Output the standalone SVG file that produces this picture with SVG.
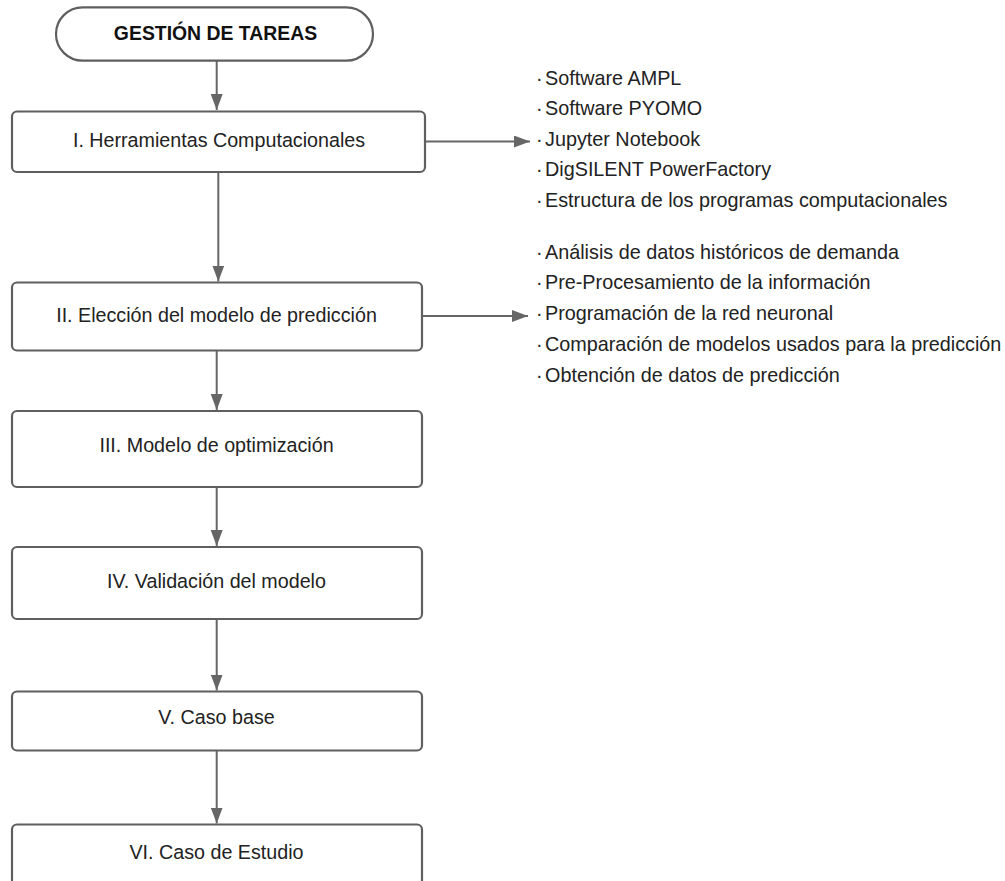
<svg xmlns="http://www.w3.org/2000/svg" width="1005" height="881" viewBox="0 0 1005 881">
<defs>
<marker id="ah" viewBox="0 0 16 12" refX="16" refY="6" markerWidth="16" markerHeight="12" markerUnits="userSpaceOnUse" orient="auto">
<path d="M0,0 L16,6 L0,12 Z" fill="#666666"/>
</marker>
<style>
.box{fill:#ffffff;stroke:#5f5f5f;stroke-width:2.2}
.lbl{font-family:"Liberation Sans",Arial,sans-serif;font-size:19.7px;fill:#222222;text-anchor:middle}
.ttl{font-family:"Liberation Sans",Arial,sans-serif;font-size:19.4px;font-weight:bold;fill:#111111;text-anchor:middle}
.lst{font-family:"Liberation Sans",Arial,sans-serif;font-size:19.8px;fill:#222222}
.con{fill:none;stroke:#666666;stroke-width:2;marker-end:url(#ah)}
</style>
</defs>
<rect width="1005" height="881" fill="#ffffff"/>
<g id="connectors">
<path class="con" d="M216.7,61 L216.7,110"/>
<path class="con" d="M218.3,172 L218.3,281.5"/>
<path class="con" d="M216.7,351 L216.7,410"/>
<path class="con" d="M216.7,487 L216.7,546"/>
<path class="con" d="M216.7,619 L216.7,690.5"/>
<path class="con" d="M216.7,751 L216.7,823.5"/>
<path class="con" d="M425,141.5 L530,141.5"/>
<path class="con" d="M422,316 L528,316"/>
</g>
<g id="start">
<rect class="box" x="56" y="7.3" width="317" height="53.4" rx="26.7"/>
<text class="ttl" x="215.5" y="39.8">GESTIÓN DE TAREAS</text>
</g>
<g id="n1">
<rect class="box" x="12" y="111.5" width="413" height="60.5" rx="5"/>
<text class="lbl" x="219" y="147">I. Herramientas Computacionales</text>
</g>
<g id="n2">
<rect class="box" x="12" y="282.5" width="410" height="68" rx="5"/>
<text class="lbl" x="216.5" y="321.7">II. Elección del modelo de predicción</text>
</g>
<g id="n3">
<rect class="box" x="12" y="411" width="410" height="76" rx="5"/>
<text class="lbl" x="216.5" y="452">III. Modelo de optimización</text>
</g>
<g id="n4">
<rect class="box" x="12" y="547" width="410" height="72" rx="5"/>
<text class="lbl" x="216.5" y="588.3">IV. Validación del modelo</text>
</g>
<g id="n5">
<rect class="box" x="12" y="691.5" width="410" height="59" rx="5"/>
<text class="lbl" x="216.5" y="724.3">V. Caso base</text>
</g>
<g id="n6">
<rect class="box" x="12" y="824.5" width="410" height="72" rx="5"/>
<text class="lbl" x="216.5" y="859.3">VI. Caso de Estudio</text>
</g>
<g id="list1">
<text class="lst" y="85"><tspan x="536">·</tspan><tspan x="545">Software AMPL</tspan></text>
<text class="lst" y="115.4"><tspan x="536">·</tspan><tspan x="545">Software PYOMO</tspan></text>
<text class="lst" y="145.8"><tspan x="536">·</tspan><tspan x="545">Jupyter Notebook</tspan></text>
<text class="lst" y="176.2"><tspan x="536">·</tspan><tspan x="545">DigSILENT PowerFactory</tspan></text>
<text class="lst" y="206.6"><tspan x="536">·</tspan><tspan x="545">Estructura de los programas computacionales</tspan></text>
</g>
<g id="list2">
<text class="lst" y="258.5"><tspan x="536">·</tspan><tspan x="545">Análisis de datos históricos de demanda</tspan></text>
<text class="lst" y="289.3"><tspan x="536">·</tspan><tspan x="545">Pre-Procesamiento de la información</tspan></text>
<text class="lst" y="320.1"><tspan x="536">·</tspan><tspan x="545">Programación de la red neuronal</tspan></text>
<text class="lst" y="350.9"><tspan x="536">·</tspan><tspan x="545">Comparación de modelos usados para la predicción</tspan></text>
<text class="lst" y="381.7"><tspan x="536">·</tspan><tspan x="545">Obtención de datos de predicción</tspan></text>
</g>
</svg>
